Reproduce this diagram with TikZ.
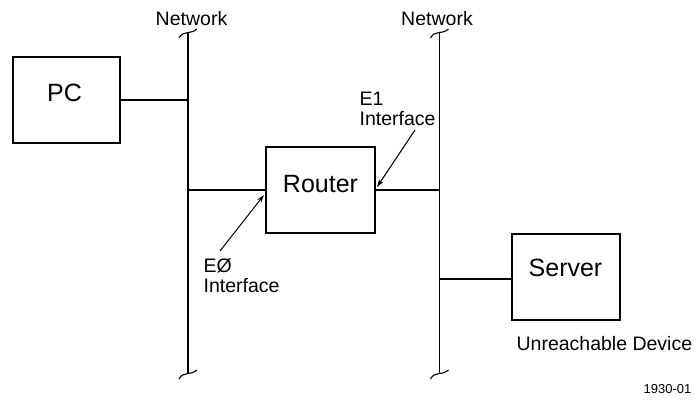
\documentclass[tikz,border=0pt]{standalone}
\usepackage{fontspec}
\setmainfont{Liberation Sans}
\usetikzlibrary{arrows.meta,calc}
\begin{document}
\begin{tikzpicture}[x=1pt,y=-1pt,
  line width=1.2pt,
  devbox/.style={draw=black, line width=1.2pt, minimum height=86pt, inner sep=0pt},
  devlabel/.style={inner sep=0pt, anchor=base, font=\fontsize{25}{27}\selectfont},
  smalllabel/.style={inner sep=0pt, font=\fontsize{19.5}{20}\selectfont},
  netline/.style={line width=1.2pt},
  pointer/.style={line width=1pt, -{Stealth[length=8pt,width=5pt]}}]
\useasboundingbox (0,0) rectangle (696,401);

% boxes
\node[devbox, minimum width=107pt] (pc) at (66.5,100) {};
\node[devlabel] (pclabel) at (64.5,102) {PC};
\node[devbox, minimum width=109pt] (router) at (320.5,190) {};
\node[devlabel] (routerlabel) at (320.5,192) {Router};
\node[devbox, minimum width=108pt] (server) at (566,277) {};
\node[devlabel] (serverlabel) at (565.5,276) {Server};

% networks
\coordinate (n1top) at (188,33);
\coordinate (n1bot) at (188,374);
\coordinate (n2top) at (439.5,33);
\coordinate (n2bot) at (439.5,374);
\draw[netline] (n1top) -- (n1bot);
\draw[netline] (n2top) -- (n2bot);
\foreach \n in {n1top,n1bot,n2top,n2bot}{
  \draw[line width=1.1pt] ($(\n)+(-9,5)$) .. controls ($(\n)+(-5,-3)$) and ($(\n)+(2,2)$) .. ($(\n)+(9,-4)$);
}
\node[smalllabel, anchor=base] (net1) at (191.5,26) {Network};
\node[smalllabel, anchor=base] (net2) at (437,26) {Network};

% connections
\draw (pc.east) -- (pc.east -| n1top);
\draw (router.west) -- (router.west -| n1top);
\draw (router.east) -- (router.east -| n2top);
\draw ($(server.west)+(0,2)$) -- ($(server.west -| n2top)+(0,2)$);

% interface labels
\node[smalllabel, anchor=base west] (e0a) at (203,272) {EØ};
\node[smalllabel, anchor=base west] (e0b) at (203,292) {Interface};
\coordinate (e0tail) at (220,251);
\coordinate (e0head) at (264,195);
\draw[pointer] (e0tail) -- (e0head);

\node[smalllabel, anchor=base west] (e1a) at (359,106) {E1};
\node[smalllabel, anchor=base west] (e1b) at (359,126) {Interface};
\coordinate (e1tail) at (415,130);
\coordinate (e1head) at (377,187);
\draw[pointer] (e1tail) -- (e1head);

\node[smalllabel, anchor=base west] (unreach) at (516,350) {Unreachable Device};
\node[inner sep=0pt, anchor=base east, font=\fontsize{13}{14}\selectfont] (fig) at (692,393) {1930-01};
\end{tikzpicture}
\end{document}
